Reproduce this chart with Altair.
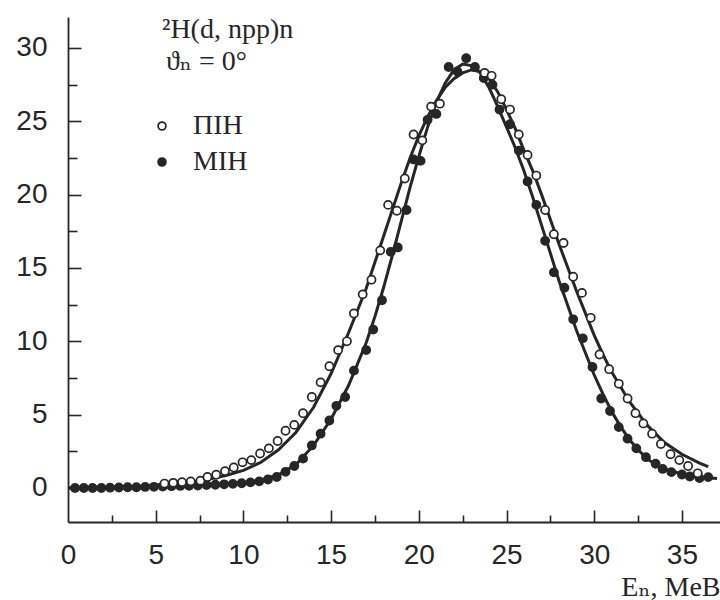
import altair as alt
import pandas as pd

# ---- data ----
open_x = [5.5, 6.0, 6.5, 7.0, 7.55, 7.95, 8.45, 8.95, 9.45, 9.95, 10.45, 10.95, 11.45, 11.95,
          12.4, 12.9, 13.4, 13.9, 14.4, 14.9, 15.4, 15.9, 16.3, 16.8, 17.3, 17.8, 18.25, 18.75,
          19.2, 19.7, 20.2, 20.7, 21.2, 23.75, 24.15, 24.7, 25.2, 25.7, 26.2, 26.7, 27.2, 27.7,
          28.25, 28.8, 29.3, 29.8, 30.3, 30.85, 31.4, 31.9, 32.35, 32.8, 33.3, 33.8, 34.35,
          34.85, 35.35, 35.9]
open_y = [0.3, 0.35, 0.4, 0.45, 0.5, 0.75, 0.9, 1.15, 1.4, 1.75, 1.9, 2.35, 2.7, 3.2,
          3.9, 4.3, 5.1, 6.2, 7.2, 8.3, 9.4, 10.0, 11.9, 13.2, 14.2, 16.2, 19.3, 18.9,
          21.1, 24.1, 23.7, 26.0, 26.2, 28.3, 28.1, 26.5, 25.8, 24.1, 22.7, 21.3, 18.95, 17.3,
          16.7, 14.4, 13.3, 11.6, 9.1, 8.1, 7.1, 6.1, 5.1, 4.4, 3.7, 3.0, 2.3,
          1.9, 1.5, 1.0]

filled_x = [0.4, 0.9, 1.4, 1.9, 2.4, 2.9, 3.4, 3.9, 4.4, 4.9, 5.4, 5.9, 6.4, 6.9, 7.4, 7.9,
            8.4, 8.9, 9.4, 9.9, 10.4, 10.9, 11.4, 11.9, 12.4, 12.9, 13.4, 13.9, 14.4, 14.9,
            15.3, 15.8, 16.3, 17.0, 17.4, 17.9, 18.4, 18.8, 19.3, 19.7, 20.1, 20.5, 21.0,
            21.7, 22.2, 22.7, 23.2, 23.7, 24.2, 24.6, 25.2, 25.7, 26.2, 26.7, 27.2, 27.7,
            28.3, 28.8, 29.35, 29.9, 30.4, 30.9, 31.4, 31.9, 32.4, 32.95, 33.5, 33.9, 34.4,
            35.0, 35.45, 36.0, 36.5]
filled_y = [0.0, 0.0, 0.0, 0.0, 0.02, 0.03, 0.05, 0.05, 0.07, 0.08, 0.1, 0.12, 0.14, 0.15, 0.17, 0.2,
            0.22, 0.25, 0.28, 0.32, 0.38, 0.45, 0.58, 0.75, 1.1, 1.5, 2.0, 2.9, 3.7, 4.6,
            5.6, 6.2, 8.0, 9.4, 10.8, 12.8, 16.1, 16.4, 18.95, 22.4, 22.3, 25.1, 25.5,
            28.7, 28.4, 29.3, 28.7, 27.95, 27.5, 25.8, 24.8, 23.0, 20.9, 19.3, 16.85, 14.7,
            13.65, 11.5, 10.2, 8.25, 6.1, 5.25, 4.15, 3.36, 2.7, 2.1, 1.65, 1.3, 1.08,
            0.92, 0.78, 0.67, 0.74]

open_curve_x = [0, 2, 4, 6, 7, 8, 9, 10, 11, 12, 13, 14, 15, 16, 17,
                17.5, 18, 18.5, 19, 19.5, 20, 20.5, 21, 21.5, 22, 22.5, 23, 23.5, 24,
                24.5, 25, 25.5, 26, 26.5, 27, 27.5, 28, 28.5, 29, 29.5, 30, 30.5, 31,
                32, 33, 34, 35, 36, 36.5]
open_curve_y = [0.0, 0.05, 0.1, 0.3, 0.4, 0.6, 0.85, 1.2, 1.75, 2.6, 3.8, 5.5, 7.8, 10.6, 13.6,
                15.4, 17.2, 19.0, 20.8, 22.5, 24.0, 25.3, 26.4, 27.3, 27.9, 28.3, 28.5, 28.4, 27.9,
                27.0, 25.8, 24.5, 23.0, 21.6, 20.0, 18.3, 16.6, 15.0, 13.4, 11.9, 10.4, 9.1, 7.9,
                5.9, 4.3, 3.1, 2.3, 1.7, 1.45]

filled_curve_x = [0, 2, 4, 6, 8, 10, 11, 12, 13, 14, 15, 16, 17,
                  17.5, 18, 18.5, 19, 19.5, 20, 20.5, 21, 21.5, 22, 22.5, 23, 23.5, 24, 24.5,
                  25, 25.5, 26, 26.5, 27, 27.5, 28, 28.5, 29, 29.5, 30, 30.5, 31, 31.5, 32,
                  32.5, 33, 33.5, 34, 35, 36, 37]
filled_curve_y = [0.0, 0.0, 0.05, 0.1, 0.2, 0.35, 0.55, 0.9, 1.6, 2.9, 4.7, 7.0, 9.9,
                  11.7, 13.7, 15.9, 18.2, 20.5, 22.6, 24.6, 26.3, 27.6, 28.5, 28.9, 28.8, 28.3, 27.3, 26.0,
                  24.6, 23.2, 21.6, 19.8, 17.9, 16.0, 14.1, 12.4, 10.7, 9.2, 7.7, 6.4, 5.2, 4.2, 3.3,
                  2.6, 2.0, 1.6, 1.3, 0.95, 0.75, 0.65]

series_names = ["ПІН", "МІН"]
x_labels = [0, 5, 10, 15, 20, 25, 30, 35]
x_major = [5, 10, 15, 20, 25, 30, 35]
x_minor = [2.5, 7.5, 12.5, 17.5, 22.5, 27.5, 32.5]
y_labels = [0, 5, 10, 15, 20, 25, 30]
y_minor = [2.5, 7.5, 12.5, 17.5, 22.5, 27.5]
reaction = "²H(d, npp)n"
angle_text = "ϑₙ = 0°"
x_title = "Eₙ, MeB"

# ---- tables ----
pts = pd.DataFrame({
    "E": filled_x + open_x,
    "N": filled_y + open_y,
    "s": [series_names[1]] * len(filled_x) + [series_names[0]] * len(open_x),
})
open_curve = pd.DataFrame({"E": open_curve_x, "N": open_curve_y})
filled_curve = pd.DataFrame({"E": filled_curve_x, "N": filled_curve_y})

INK = "#262626"
SANS = "Liberation Sans"
SERIF = "Liberation Serif, DejaVu Serif"
xs = alt.Scale(domain=[0, 37.17], nice=False, zero=False)
ys = alt.Scale(domain=[-2.32, 32.11], nice=False, zero=False)

# layer with labelled axes and axis lines
ax_lab_x = alt.Axis(values=x_labels, tickSize=0, domain=True, domainColor=INK, domainWidth=1.8,
                    grid=False, labelFont=SANS, labelFontSize=28, labelColor=INK, labelPadding=19,
                    labelFlush=False, title=x_title, titleFont=SERIF, titleFontSize=28,
                    titleFontWeight="normal", titleColor=INK, titleX=652, titleY=73,
                    titleAlign="right", titleBaseline="alphabetic", format="d")
ax_lab_y = alt.Axis(values=y_labels, tickSize=0, domain=True, domainColor=INK, domainWidth=1.8,
                    grid=False, labelFont=SANS, labelFontSize=28, labelColor=INK, labelPadding=21,
                    title=None, format="d")
line_open = alt.Chart(open_curve).mark_line(color=INK, strokeWidth=3).encode(
    x=alt.X("E:Q", scale=xs, axis=ax_lab_x),
    y=alt.Y("N:Q", scale=ys, axis=ax_lab_y),
)

# layer carrying the inward major ticks
ax_maj_x = alt.Axis(values=x_major, tickSize=12, offset=-12, labels=False, domain=False, grid=False,
                    tickColor=INK, tickWidth=1.6, title=None, orient="bottom")
ax_maj_y = alt.Axis(values=y_labels, tickSize=13, offset=-13, labels=False, domain=False, grid=False,
                    tickColor=INK, tickWidth=1.6, title=None, orient="left")
line_filled = alt.Chart(filled_curve).mark_line(color=INK, strokeWidth=3).encode(
    x=alt.X("E:Q", scale=xs, axis=ax_maj_x),
    y=alt.Y("N:Q", scale=ys, axis=ax_maj_y),
)

# points layer carrying the minor ticks and the legend
ax_min_x = alt.Axis(values=x_minor, tickSize=7, offset=-7, labels=False, domain=False, grid=False,
                    tickColor=INK, tickWidth=1.6, title=None, orient="bottom")
ax_min_y = alt.Axis(values=y_minor, tickSize=9, offset=-9, labels=False, domain=False, grid=False,
                    tickColor=INK, tickWidth=1.6, title=None, orient="left")
points = alt.Chart(pts).mark_point(shape="circle", filled=True, size=66, stroke=INK,
                                   strokeWidth=1.7, opacity=1).encode(
    x=alt.X("E:Q", scale=xs, axis=ax_min_x),
    y=alt.Y("N:Q", scale=ys, axis=ax_min_y),
    fill=alt.Fill("s:N", scale=alt.Scale(domain=series_names, range=["white", INK]),
                  legend=alt.Legend(title=None, orient="none", legendX=80, legendY=95,
                                    labelFont=SERIF, labelFontSize=28, labelColor=INK,
                                    symbolType="circle", symbolSize=62, symbolStrokeColor=INK,
                                    symbolStrokeWidth=1.7, labelOffset=17, rowPadding=8,
                                    padding=0)),
    order=alt.Order("o:Q"),
).transform_calculate(o="datum.s == 'ПІН' ? 1 : 0")

txt1 = alt.Chart(pd.DataFrame({"t": [reaction]})).mark_text(
    x=94, y=21, align="left", baseline="alphabetic", font=SERIF, fontSize=28, color=INK
).encode(text="t:N")
txt2 = alt.Chart(pd.DataFrame({"t": [angle_text]})).mark_text(
    x=98, y=53, align="left", baseline="alphabetic", font=SERIF, fontSize=28, color=INK
).encode(text="t:N")

chart = alt.layer(line_open, line_filled, points, txt1, txt2).resolve_axis(
    x="independent", y="independent"
).properties(
    width=652, height=505,
    autosize=alt.AutoSizeParams(type="none"),
    padding={"left": 68, "top": 17, "right": 0, "bottom": 78},
    background="white",
).configure_view(stroke=None)

chart.save("out.html", embed_options={"renderer": "svg", "actions": False})
